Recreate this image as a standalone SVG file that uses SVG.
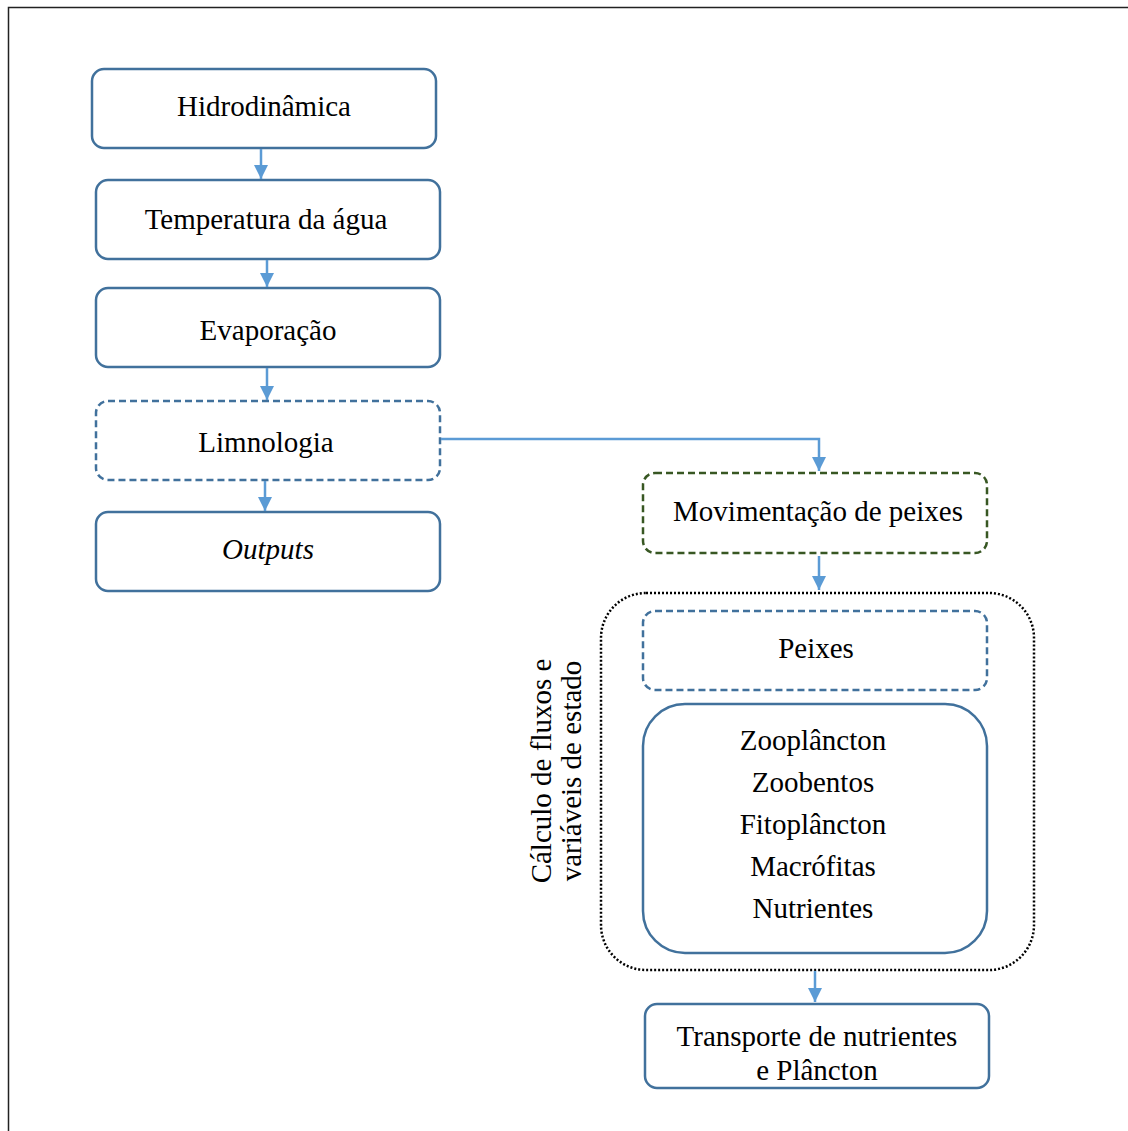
<svg xmlns="http://www.w3.org/2000/svg" width="1128" height="1131" viewBox="0 0 1128 1131">
<defs>
<style>
.box{fill:#fff;stroke:#41719C;stroke-width:2.5}
.dash{fill:#fff;stroke:#41719C;stroke-width:2.5;stroke-dasharray:7 4}
.green{fill:#fff;stroke:#385723;stroke-width:2.5;stroke-dasharray:7 4}
.dot{fill:none;stroke:#000;stroke-width:2.5;stroke-dasharray:2 2}
.t{font-family:"Liberation Serif","Times New Roman",serif;font-size:29px;fill:#000;text-anchor:middle}
.c{fill:none;stroke:#5B9BD5;stroke-width:2.5}
</style>
<marker id="ah" viewBox="0 0 14 14" refX="14" refY="7" markerWidth="14" markerHeight="14" markerUnits="userSpaceOnUse" orient="auto">
<path d="M0,0 L14,7 L0,14 Z" fill="#5B9BD5"/>
</marker>
</defs>
<rect x="0" y="0" width="1128" height="1131" fill="#fff"/>
<rect x="8.5" y="7.5" width="1130" height="1135" fill="none" stroke="#222" stroke-width="1.5"/>

<g id="n-hidro"><rect class="box" x="92" y="69" width="344" height="79" rx="12"/><text class="t" x="264" y="116">Hidrodinâmica</text></g>
<g id="n-temp"><rect class="box" x="96" y="180" width="344" height="79" rx="12"/><text class="t" x="266" y="229">Temperatura da água</text></g>
<g id="n-evap"><rect class="box" x="96" y="288" width="344" height="79" rx="12"/><text class="t" x="268" y="340">Evaporação</text></g>
<g id="n-limno"><rect class="dash" x="96" y="401" width="344" height="79" rx="12"/><text class="t" x="266" y="452">Limnologia</text></g>
<g id="n-outputs"><rect class="box" x="96" y="512" width="344" height="79" rx="12"/><text class="t" x="268" y="559" font-style="italic">Outputs</text></g>

<g id="n-mov"><rect class="green" x="643" y="473" width="344" height="80" rx="12"/><text class="t" x="818" y="521">Movimentação de peixes</text></g>

<g id="n-calc">
<rect class="dot" x="601" y="593" width="433" height="377" rx="45"/>
<text class="t" transform="translate(551,771) rotate(-90)">Cálculo de fluxos e</text>
<text class="t" transform="translate(581,771) rotate(-90)">variáveis de estado</text>
</g>
<g id="n-peixes"><rect class="dash" x="643" y="611" width="344" height="79" rx="12"/><text class="t" x="816" y="658">Peixes</text></g>
<g id="n-bio"><rect class="box" x="643" y="704" width="344" height="249" rx="42"/>
<text class="t" x="813" y="750">Zooplâncton</text>
<text class="t" x="813" y="792">Zoobentos</text>
<text class="t" x="813" y="834">Fitoplâncton</text>
<text class="t" x="813" y="876">Macrófitas</text>
<text class="t" x="813" y="918">Nutrientes</text>
</g>
<g id="n-transp"><rect class="box" x="645" y="1004" width="344" height="84" rx="12"/>
<text class="t" x="817" y="1046">Transporte de nutrientes</text>
<text class="t" x="817" y="1080">e Plâncton</text>
</g>

<g id="connectors">
<line class="c" x1="261" y1="149" x2="261" y2="179" marker-end="url(#ah)"/>
<line class="c" x1="267" y1="260" x2="267" y2="287" marker-end="url(#ah)"/>
<line class="c" x1="267" y1="368" x2="267" y2="400" marker-end="url(#ah)"/>
<line class="c" x1="265" y1="481" x2="265" y2="511" marker-end="url(#ah)"/>
<polyline class="c" stroke-width="1.5" points="441,439 819,439 819,471" marker-end="url(#ah)"/>
<line class="c" x1="819" y1="556" x2="819" y2="590" marker-end="url(#ah)"/>
<line class="c" x1="815" y1="971" x2="815" y2="1002" marker-end="url(#ah)"/>
</g>
</svg>
